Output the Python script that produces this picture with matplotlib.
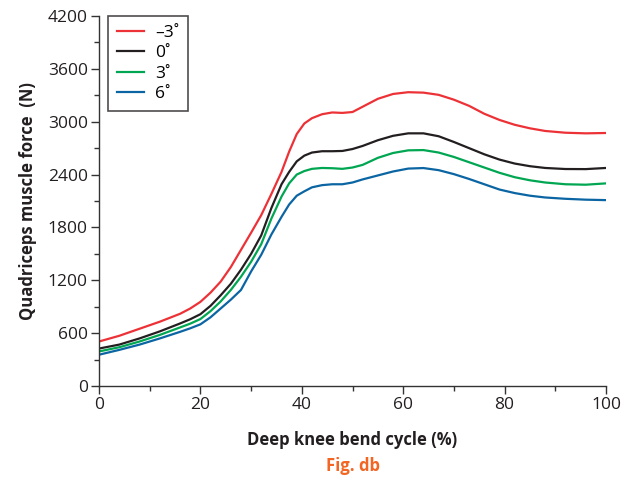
import matplotlib
matplotlib.use("Agg")
import matplotlib.pyplot as plt
from matplotlib.ticker import MultipleLocator

plt.rcParams['font.family'] = ['Open Sans', 'DejaVu Sans']

cycle = [0, 4, 8, 12, 16, 18, 20, 22, 24, 26, 28, 30, 32, 34, 36, 37.5, 39, 40.5, 42, 44, 46, 48, 50,
         52, 55, 58, 61, 64, 67, 70, 73, 76, 79, 82, 85, 88, 92, 96, 100]
force_m3 = [505, 570, 650, 730, 820, 880, 955, 1060, 1185, 1350, 1545, 1740, 1940, 2180, 2430, 2660, 2860, 2980, 3040, 3085, 3105, 3100, 3110,
            3170, 3260, 3315, 3335, 3330, 3305, 3250, 3180, 3090, 3020, 2965, 2925, 2895, 2875, 2868, 2872]
force_0 = [425, 470, 540, 620, 710, 758, 815, 910, 1030, 1160, 1320, 1500, 1710, 2020, 2290, 2430, 2550, 2615, 2650, 2665, 2665, 2668, 2690,
           2725, 2790, 2840, 2868, 2868, 2835, 2770, 2700, 2630, 2570, 2525, 2495, 2475, 2463, 2462, 2475]
force_3 = [392, 440, 505, 580, 665, 708, 760, 850, 960, 1090, 1240, 1410, 1610, 1900, 2150, 2300, 2400, 2440, 2465, 2475, 2472, 2465, 2480,
           2510, 2590, 2645, 2675, 2678, 2650, 2600, 2540, 2480, 2420, 2370, 2335, 2310, 2290, 2285, 2300]
force_6 = [355, 410, 470, 540, 615, 655, 700, 780, 880, 980, 1090, 1300, 1490, 1720, 1920, 2060, 2160, 2210, 2255, 2280, 2290, 2290, 2310,
           2345, 2390, 2435, 2468, 2474, 2450, 2405, 2350, 2290, 2230, 2190, 2160, 2140, 2125, 2115, 2110]

labels = ['\u20133\u02da', '0\u02da', '3\u02da', '6\u02da']
colors = ['#ec3237', '#231f20', '#00a651', '#0b65a3']
series = [force_m3, force_0, force_3, force_6]

fig = plt.figure(figsize=(6.32, 4.82), dpi=100)
ax = fig.add_axes([99/632, 1-386/482, (606-99)/632, (386-16)/482])

for s, c, l in zip(series, colors, labels):
    ax.plot(cycle, s, color=c, lw=1.6, label=l, solid_joinstyle='round')

ax.set_xlim(0, 100)
ax.set_ylim(0, 4200)
ax.xaxis.set_major_locator(MultipleLocator(20))
ax.xaxis.set_minor_locator(MultipleLocator(10))
ax.yaxis.set_major_locator(MultipleLocator(600))
ax.yaxis.set_minor_locator(MultipleLocator(300))
for sp in ['top', 'right']:
    ax.spines[sp].set_visible(False)
for sp in ['left', 'bottom']:
    ax.spines[sp].set_color('#333333')
    ax.spines[sp].set_linewidth(1.0)
ax.tick_params(which='major', direction='out', length=6, width=1, color='#333333',
               labelsize=12.5, labelcolor='#231f20', pad=2)
ax.tick_params(which='minor', direction='out', length=3.5, width=1, color='#333333')

ax.set_xlabel('Deep knee bend cycle (%)', fontsize=12, fontweight='bold', color='#231f20', labelpad=13)
ax.set_ylabel('Quadriceps muscle force  (N)', fontsize=12, fontweight='bold', color='#231f20', labelpad=8)

leg = ax.legend(loc='upper left', bbox_to_anchor=(9/507, 1.0), frameon=True, fancybox=False,
                fontsize=12.5, handlelength=1.6, handletextpad=0.6, labelspacing=0.25,
                borderpad=0.5, borderaxespad=0)
leg.get_frame().set_edgecolor('#231f20')
leg.get_frame().set_linewidth(1.2)

fig.text((99+606)/2/632, 1-466/482, 'Fig. db', ha='center', va='center', fontsize=12,
         fontweight='bold', color='#f26522')

fig.savefig('out.png', dpi=100)
